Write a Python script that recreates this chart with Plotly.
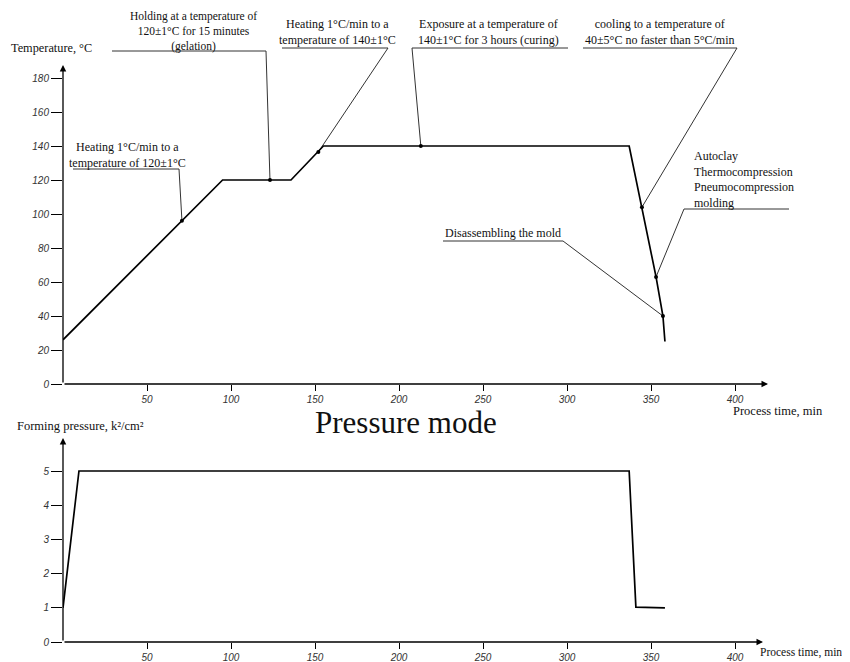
import plotly.graph_objects as go

# ---------------- data ----------------
temp_time = [0, 95, 135.7, 155, 337, 344.6, 353, 357.1, 358.3]
temp_vals = [26, 120, 120, 140, 140, 104, 63, 40, 25]

press_time = [0, 9.5, 337, 341, 358.3]
press_vals = [1, 5, 5, 1.02, 1]

temp_ticks = [0, 20, 40, 60, 80, 100, 120, 140, 160, 180]
time_ticks = [50, 100, 150, 200, 250, 300, 350, 400]
press_ticks = [0, 1, 2, 3, 4, 5]

stage_labels = [
    ["Heating 1°C/min to a", "temperature of 120±1°C"],
    ["Holding at a temperature of", "120±1°C for 15 minutes", "(gelation)"],
    ["Heating 1°C/min to a", "temperature of 140±1°C"],
    ["Exposure at a temperature of", "140±1°C for 3 hours (curing)"],
    ["cooling to a temperature of", "40±5°C no faster than 5°C/min"],
    ["Autoclay", "Thermocompression", "Pneumocompression", "molding"],
    ["Disassembling the mold"],
]
stage_time = [70.8, 123.2, 152, 213, 344.6, 353, 357.1]
stage_temp = [96, 120, 136.5, 140, 104, 63, 40]

# ---------------- layout helpers ----------------
OFF = 8  # page body margin
W, H = 850, 662
X0_PX, PX_PER_MIN = 63, 1.68
Y0_PX, PX_PER_DEG = 384, 1.7


def pxx(px):
    return (px - OFF) / W


def pxy(py):
    return 1 - (py - OFF) / H


def t_of(px):
    return (px - X0_PX) / PX_PER_MIN


def T_of(py):
    return (Y0_PX - py) / PX_PER_DEG


# label placement in screen pixels:
# (text x px, xanchor, block centre y px, font size, underline x0, underline x1, underline y, leader side)
label_geom = [
    (127, "center", 154.5, 12, 73, 179, 169, "R"),
    (193, "center", 31, 11.5, 112, 266, 51, "R"),
    (337, "center", 31.5, 12, 282, 388, 48, "R"),
    (488, "center", 32, 12, 412, 568, 48, "L"),
    (660, "center", 32, 12, 583, 737, 48, "R"),
    (692, "left", 179.5, 12, 684, 789, 209, "L"),
    (503, "center", 233, 12, 443, 563, 241, "R"),
]

SERIF = "Liberation Serif"
TICKFONT = dict(family="Liberation Sans", size=10, color="#333", style="italic")

fig = go.Figure()

# leader lines
lx, ly = [], []
for (tx, xa, cy, fs, u0, u1, uy, side), st, sT in zip(label_geom, stage_time, stage_temp):
    a, b = (u0, u1) if side == "R" else (u1, u0)
    lx += [t_of(a), t_of(b), st, None]
    ly += [T_of(uy), T_of(uy), sT, None]
fig.add_trace(go.Scatter(x=lx, y=ly, mode="lines", line=dict(color="#333", width=1),
                         xaxis="x", yaxis="y", hoverinfo="skip", showlegend=False))

# temperature curve
fig.add_trace(go.Scatter(x=temp_time, y=temp_vals, mode="lines",
                         line=dict(color="black", width=1.7), xaxis="x", yaxis="y",
                         showlegend=False))
# stage dots
fig.add_trace(go.Scatter(x=stage_time, y=stage_temp, mode="markers",
                         marker=dict(color="black", size=4), xaxis="x", yaxis="y",
                         showlegend=False))

# pressure curve
fig.add_trace(go.Scatter(x=press_time, y=press_vals, mode="lines",
                         line=dict(color="black", width=1.7), xaxis="x2", yaxis="y2",
                         showlegend=False))

annotations = []
for (tx, xa, cy, fs, u0, u1, uy, side), lines in zip(label_geom, stage_labels):
    annotations.append(dict(x=t_of(tx), y=T_of(cy), xref="x", yref="y",
                            text="<br>".join(lines), align=xa if xa == "left" else "center",
                            showarrow=False, xanchor=xa, yanchor="middle",
                            font=dict(family=SERIF, size=fs, color="#111")))


# axis arrows
def arrow(xref, yref, x0, y0, x1, y1):
    return dict(x=x1, y=y1, ax=x0, ay=y0, xref=xref, yref=yref, axref=xref, ayref=yref,
                text="", showarrow=True, arrowhead=2, arrowsize=1, arrowwidth=1.3,
                arrowcolor="black", standoff=0, startstandoff=0)


annotations += [
    arrow("x", "y", 0, 0, t_of(768), 0),
    arrow("x", "y", 0, 0, 0, T_of(65)),
    arrow("x2", "y2", 0, 0, t_of(763), 0),
    arrow("x2", "y2", 0, 0, 0, (642 - 438) / 34.2),
]


def ptext(px, py, txt, size, xanchor="center"):
    return dict(x=pxx(px), y=pxy(py), xref="paper", yref="paper", text=txt,
                showarrow=False, xanchor=xanchor, yanchor="middle",
                font=dict(family=SERIF, size=size, color="#111"))


annotations += [
    ptext(51, 48, "Temperature, °C", 12.3),
    ptext(778, 411, "Process time, min", 12.5),
    ptext(406, 422, "Pressure mode", 31),
    ptext(80, 426, "Forming pressure, k²/cm²", 12.5),
    ptext(758, 652, "Process time, min", 11.5, "left"),
]

x_right_px = 800
xr = [0, t_of(x_right_px)]
xdom = [pxx(X0_PX), pxx(x_right_px)]
common_x = dict(range=xr, domain=xdom, showgrid=False, zeroline=False, showline=False,
                tickvals=time_ticks, ticktext=[str(v) for v in time_ticks],
                ticks="outside", ticklen=6, tickcolor="black", tickwidth=1,
                tickfont=TICKFONT, fixedrange=True, automargin=False)
common_y = dict(showgrid=False, zeroline=False, showline=False, ticks="outside",
                ticklen=11, tickcolor="black", tickwidth=1, tickfont=TICKFONT,
                fixedrange=True, automargin=False)

fig.update_layout(
    width=W, height=H,
    margin=dict(l=0, r=0, t=0, b=0),
    paper_bgcolor="white", plot_bgcolor="white",
    showlegend=False,
    xaxis=dict(**common_x, anchor="y"),
    yaxis=dict(**common_y, range=[0, T_of(OFF)], domain=[pxy(Y0_PX), 1],
               tickvals=temp_ticks, anchor="x"),
    xaxis2=dict(**common_x, anchor="y2"),
    yaxis2=dict(**common_y, range=[0, (642 - 438) / 34.2], domain=[pxy(642), pxy(438)],
                tickvals=press_ticks, anchor="x2"),
    annotations=annotations,
)

fig.write_html("out.html")
